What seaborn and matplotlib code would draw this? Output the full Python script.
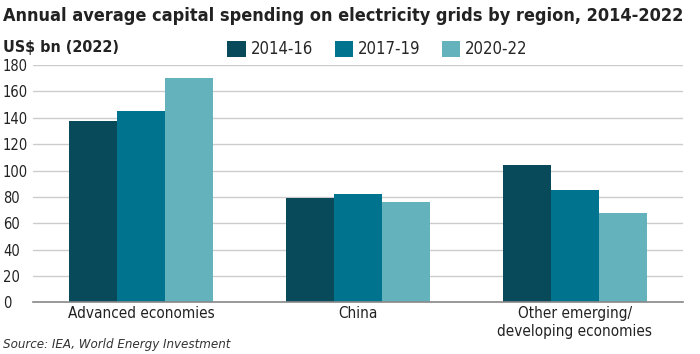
import pandas as pd
import matplotlib
matplotlib.use("Agg")
import matplotlib.pyplot as plt
import seaborn as sns

regions = ["Advanced economies", "China", "Other emerging/\ndeveloping economies"]
periods = ["2014-16", "2017-19", "2020-22"]
v_2014_16 = [137.5, 79, 104.5]
v_2017_19 = [145.5, 82, 85]
v_2020_22 = [170.5, 76, 68]
colors = ["#08495a", "#00748f", "#64b2bc"]

sns.set_theme(style="white")
plt.rcParams["font.family"] = ["DejaVu Sans"]
plt.rcParams["font.stretch"] = "condensed"

df = pd.DataFrame({
    "region": regions * 3,
    "period": [p for p in periods for _ in regions],
    "value": v_2014_16 + v_2017_19 + v_2020_22,
})

fig = plt.figure(figsize=(7, 3.54), dpi=100)
ax = fig.add_axes([0.047, 0.146, 0.929, 0.67])
sns.barplot(data=df, x="region", y="value", hue="period", palette=colors,
            width=0.665, gap=0, saturation=1, linewidth=0, ax=ax, legend=True)

ax.set_ylim(0, 180)
ax.set_yticks(range(0, 181, 20))
ax.yaxis.grid(True, color="#cccccc", linewidth=1)
ax.set_axisbelow(True)
ax.set_xlabel("")
ax.set_ylabel("")
for s in ["top", "right", "left"]:
    ax.spines[s].set_visible(False)
ax.spines["bottom"].set_color("#888888")
ax.spines["bottom"].set_linewidth(1.2)
ax.tick_params(axis="y", length=0, labelsize=10.5, pad=21.5, labelcolor="#222222")
ax.tick_params(axis="x", length=0, labelsize=11, pad=3, labelcolor="#222222")
for t in ax.get_yticklabels():
    t.set_horizontalalignment("left")
ax.set_xlim(-0.5, 2.5)

ax.legend(loc="lower center", bbox_to_anchor=(0.53, 0.965), ncol=3, frameon=False,
          fontsize=12, handlelength=1.1, handleheight=1.1, columnspacing=1.3,
          handletextpad=0.3)

fig.text(0.004, 0.955, "Annual average capital spending on electricity grids by region, 2014-2022",
         fontsize=13, fontweight="bold", color="#222222", va="center")
fig.text(0.004, 0.865, "US$ bn (2022)", fontsize=11.5, fontweight="bold", color="#222222", va="center")
fig.text(0.004, 0.028, "Source: IEA, World Energy Investment", fontsize=9.5, style="italic",
         color="#333333", va="center")

fig.savefig("out.png", dpi=100)
